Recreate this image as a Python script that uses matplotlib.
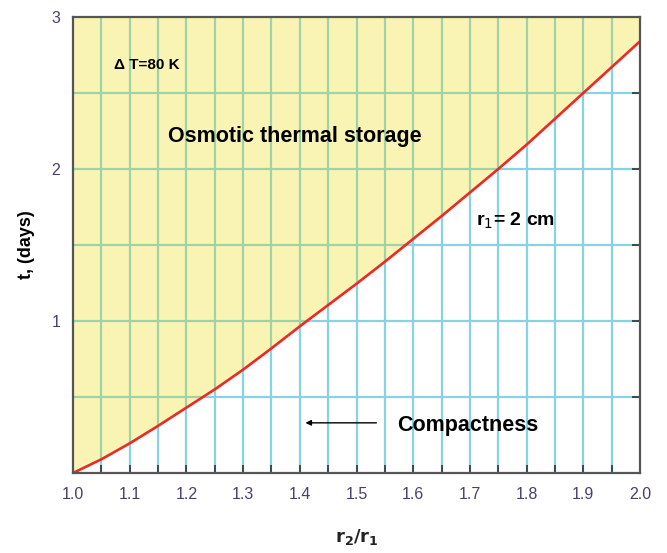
import matplotlib
matplotlib.use("Agg")
import matplotlib.pyplot as plt
import numpy as np

# data
r_ratio = [1.0, 1.05, 1.1, 1.15, 1.2, 1.25, 1.3, 1.35, 1.4, 1.45, 1.5,
           1.55, 1.6, 1.65, 1.7, 1.75, 1.8, 1.85, 1.9, 1.95, 2.0]
t_days = [0.0, 0.09, 0.195, 0.31, 0.43, 0.55, 0.68, 0.82, 0.965, 1.105, 1.245,
          1.39, 1.54, 1.69, 1.845, 2.00, 2.16, 2.33, 2.50, 2.67, 2.84]
xticks = [1.0, 1.1, 1.2, 1.3, 1.4, 1.5, 1.6, 1.7, 1.8, 1.9, 2.0]
yticks = [1, 2, 3]

plt.rcParams['font.family'] = ['Liberation Sans', 'DejaVu Sans']

fig = plt.figure(figsize=(6.67, 5.53), dpi=100)
ax = fig.add_axes([73 / 667, 1 - 473 / 553, 567 / 667, 456 / 553])

x = np.array(r_ratio)
y = np.array(t_days)

blue = '#86d3e3'
green = '#9fd3a6'
gx = np.arange(1.05, 2.0, 0.05)
gy = [0.5, 1.0, 1.5, 2.0, 2.5]

# blue grid everywhere
for v in gx:
    ax.axvline(v, color=blue, lw=1.6, zorder=1)
for h in gy:
    ax.axhline(h, color=blue, lw=1.6, zorder=1)

# yellow region above the curve
poly = ax.fill_between(x, y, 3, color='#faf4b4', lw=0, zorder=2)

# grid over the yellow turns green
clip = poly.get_paths()[0]
for v in gx:
    ln = ax.axvline(v, color=green, lw=1.6, zorder=3)
    ln.set_clip_path(clip, ax.transData)
for h in gy:
    ln = ax.axhline(h, color=green, lw=1.6, zorder=3)
    ln.set_clip_path(clip, ax.transData)

ax.plot(x, y, color='#ea2a26', lw=1.9, zorder=4)

ax.set_xlim(1.0, 2.0)
ax.set_ylim(0, 3)
ax.set_xticks(xticks)
ax.set_xticklabels([f'{v:.1f}' for v in xticks])
ax.set_xticks(np.arange(1.05, 2.0, 0.1), minor=True)
ax.set_yticks(yticks)
ax.set_yticks([0.5, 1.5, 2.5], minor=True)

tick_col = '#4a3f6b'
ax.tick_params(which='both', direction='in', top=True, right=True,
               colors='#333333', labelcolor=tick_col, labelsize=11.5,
               width=1.2)
ax.tick_params(which='major', length=6)
ax.tick_params(which='minor', length=6)
ax.tick_params(axis='x', pad=10)
ax.tick_params(axis='y', pad=9)
for s in ax.spines.values():
    s.set_color('#555555')
    s.set_linewidth(1.6)
    s.set_zorder(5)

ax.set_xlabel(r'$\mathbf{r_2/r_1}$', fontsize=13, labelpad=18)
ax.xaxis.label.set_color('#222222')
ax.set_ylabel('t, (days)', fontsize=13, fontweight='bold', labelpad=12)

ax.text(1.072, 2.655, 'Δ T=80 K', fontsize=11, fontweight='bold', zorder=6)
ax.text(1.168, 2.18, 'Osmotic thermal storage', fontsize=15.5, fontweight='bold', zorder=6)
ax.text(1.71, 1.63, r'r$_1$= 2 cm', fontsize=14, fontweight='bold', zorder=6)
ax.text(1.572, 0.315, 'Compactness', fontsize=15.5, fontweight='bold',
        va='center', zorder=6)
ax.annotate('', xy=(1.405, 0.33), xytext=(1.54, 0.33),
            arrowprops=dict(arrowstyle='-|>', color='black', lw=1,
                            mutation_scale=8), zorder=6)

fig.savefig('out.png', dpi=100)
